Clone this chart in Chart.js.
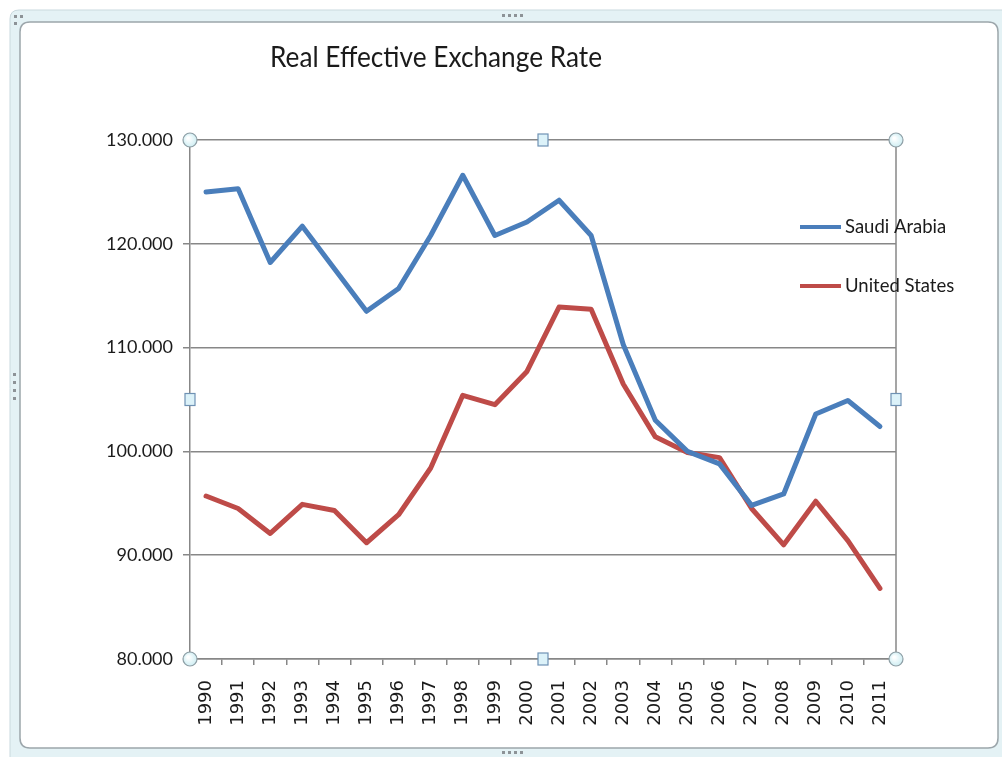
<!DOCTYPE html>
<html>
<head>
<meta charset="utf-8">
<title>Real Effective Exchange Rate</title>
<script src="https://cdn.jsdelivr.net/npm/chart.js@4.4.1/dist/chart.umd.min.js"></script>
<style>
    html, body { margin: 0; padding: 0; background: #ffffff; }
    #wrap { width: 1002px; height: 757px; position: relative; }
</style>
</head>
<body>
<div id="wrap"><canvas id="reerChart" width="1002" height="757"></canvas></div>
<script>
// data
const years = ['1990', '1991', '1992', '1993', '1994', '1995', '1996', '1997', '1998', '1999', '2000',
    '2001', '2002', '2003', '2004', '2005', '2006', '2007', '2008', '2009', '2010', '2011'];
const saudiArabia = [125.0, 125.3, 118.2, 121.7, 117.6, 113.5, 115.7, 120.8, 126.6, 120.8, 122.1,
    124.2, 120.8, 110.3, 103.0, 100.0, 98.8, 94.8, 95.9, 103.6, 104.9, 102.4];
const unitedStates = [95.7, 94.5, 92.1, 94.9, 94.3, 91.2, 93.9, 98.4, 105.4, 104.5, 107.7,
    113.9, 113.7, 106.5, 101.4, 99.9, 99.4, 94.5, 91.0, 95.2, 91.4, 86.8];
const yTicks = [80, 90, 100, 110, 120, 130];
const chartTitle = 'Real Effective Exchange Rate';

const GRID = '#878787';
const TEXT = '#1b1b1b';

// rounded rectangle path
function roundRect(ctx, x, y, w, h, r) {
    ctx.beginPath();
    ctx.moveTo(x + r, y);
    ctx.lineTo(x + w - r, y);
    ctx.quadraticCurveTo(x + w, y, x + w, y + r);
    ctx.lineTo(x + w, y + h - r);
    ctx.quadraticCurveTo(x + w, y + h, x + w - r, y + h);
    ctx.lineTo(x + r, y + h);
    ctx.quadraticCurveTo(x, y + h, x, y + h - r);
    ctx.lineTo(x, y + r);
    ctx.quadraticCurveTo(x, y, x + r, y);
    ctx.closePath();
}

// frame round the chart, like a selected chart object
const framePlugin = {
    id: 'frame',
    beforeDraw(chart) {
        const ctx = chart.ctx;
        ctx.save();
        ctx.fillStyle = '#ffffff';
        ctx.fillRect(0, 0, chart.width, chart.height);

        roundRect(ctx, 10, 10, 1010, 760, 9);
        ctx.fillStyle = '#e4f2f5';
        ctx.fill();
        ctx.strokeStyle = '#c9d9de';
        ctx.lineWidth = 1;
        ctx.stroke();

        roundRect(ctx, 20, 22, 978, 726, 10);
        ctx.fillStyle = '#ffffff';
        ctx.fill();
        ctx.strokeStyle = '#9ca6ab';
        ctx.lineWidth = 1.5;
        ctx.stroke();

        // grip dots
        ctx.fillStyle = '#8d9397';
        [502, 508, 514, 520].forEach(x => {
            ctx.fillRect(x, 14, 3, 3);
            ctx.fillRect(x, 751, 3, 3);
        });
        [373, 381, 389, 397].forEach(y => ctx.fillRect(13, y, 3, 3));
        ctx.fillRect(14, 15, 3, 3);
        ctx.fillRect(20, 15, 3, 3);
        ctx.fillRect(14, 22, 3, 3);

        // title
        ctx.font = '29px Lato';
        ctx.fillStyle = TEXT;
        ctx.textAlign = 'center';
        ctx.textBaseline = 'middle';
        const w = ctx.measureText(chartTitle).width;
        ctx.translate(436, 58);
        ctx.scale(332 / w, 1);
        ctx.fillText(chartTitle, 0, 0);
        ctx.restore();
    },
    afterDatasetsDraw(chart) {
        const ctx = chart.ctx;
        const area = chart.chartArea;
        ctx.save();

        // right border of the plot area
        ctx.strokeStyle = GRID;
        ctx.lineWidth = 1.5;
        ctx.beginPath();
        ctx.moveTo(area.right, area.top);
        ctx.lineTo(area.right, area.bottom);
        ctx.stroke();

        // legend inside the plot
        const rows = [227, 286];
        chart.data.datasets.forEach((ds, i) => {
            ctx.strokeStyle = ds.borderColor;
            ctx.lineWidth = 4;
            ctx.beginPath();
            ctx.moveTo(800, rows[i]);
            ctx.lineTo(841, rows[i]);
            ctx.stroke();
            ctx.font = '18.5px Lato';
            ctx.fillStyle = TEXT;
            ctx.textAlign = 'left';
            ctx.textBaseline = 'middle';
            ctx.fillText(ds.label, 845, rows[i]);
        });

        // selection handles
        const midX = (area.left + area.right) / 2;
        const midY = (area.top + area.bottom) / 2;
        [[area.left, area.top], [area.right, area.top], [area.left, area.bottom], [area.right, area.bottom]]
            .forEach(([x, y]) => {
                const g = ctx.createRadialGradient(x - 2, y - 2, 1, x, y, 7);
                g.addColorStop(0, '#ffffff');
                g.addColorStop(1, '#cfeef3');
                ctx.fillStyle = g;
                ctx.strokeStyle = '#8e9ea5';
                ctx.lineWidth = 1.2;
                ctx.beginPath();
                ctx.arc(x, y, 7, 0, Math.PI * 2);
                ctx.fill();
                ctx.stroke();
            });
        [[midX, area.top], [midX, area.bottom], [area.left, midY], [area.right, midY]]
            .forEach(([x, y]) => {
                ctx.fillStyle = '#dcf2f9';
                ctx.strokeStyle = '#6f92b4';
                ctx.lineWidth = 1.2;
                ctx.fillRect(x - 5, y - 6, 10, 12);
                ctx.strokeRect(x - 5, y - 6, 10, 12);
            });
        ctx.restore();
    }
};

new Chart(document.getElementById('reerChart').getContext('2d'), {
    type: 'line',
    data: {
        labels: years,
        datasets: [{
            label: 'Saudi Arabia',
            data: saudiArabia,
            borderColor: '#4a7ebb',
            borderWidth: 5,
            pointRadius: 0,
            tension: 0,
            borderJoinStyle: 'round',
            borderCapStyle: 'round'
        }, {
            label: 'United States',
            data: unitedStates,
            borderColor: '#be4b48',
            borderWidth: 5,
            pointRadius: 0,
            tension: 0,
            borderJoinStyle: 'round',
            borderCapStyle: 'round'
        }]
    },
    options: {
        responsive: false,
        animation: false,
        layout: {
            padding: { left: 20, top: 140, right: 106, bottom: 10 }
        },
        plugins: {
            legend: { display: false },
            title: { display: false },
            tooltip: { enabled: false }
        },
        scales: {
            x: {
                offset: true,
                afterFit: scale => { scale.height = 88; },
                grid: {
                    offset: true,
                    drawOnChartArea: false,
                    color: GRID,
                    lineWidth: 1.5,
                    tickLength: 6
                },
                border: { color: GRID, width: 1.5 },
                ticks: {
                    minRotation: 90,
                    maxRotation: 90,
                    autoSkip: false,
                    padding: 15,
                    color: TEXT,
                    font: { family: 'DejaVu Sans', size: 18 }
                }
            },
            y: {
                min: yTicks[0],
                max: yTicks[yTicks.length - 1],
                afterFit: scale => { scale.width = 170; },
                afterBuildTicks: scale => { scale.ticks = yTicks.map(v => ({ value: v })); },
                grid: {
                    color: GRID,
                    lineWidth: 1.5,
                    tickLength: 7
                },
                border: { color: GRID, width: 1.5 },
                ticks: {
                    padding: 10,
                    color: TEXT,
                    font: { family: 'Lato', size: 18 },
                    callback: value => value.toFixed(3)
                }
            }
        }
    },
    plugins: [framePlugin]
});
</script>
</body>
</html>
